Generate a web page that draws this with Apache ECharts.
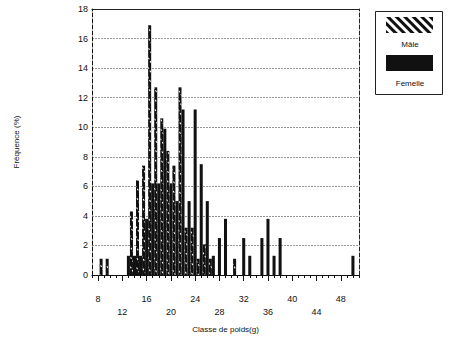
<!DOCTYPE html>
<html><head><meta charset="utf-8">
<script src="https://cdn.jsdelivr.net/npm/echarts@6/dist/echarts.min.js"></script>
<style>html,body{margin:0;padding:0;background:#fff}#c{width:450px;height:338px}</style>
</head><body><div id="c"></div>
<script>
// Weight classes (g)
const classes = [8,9,10,11,12,13,14,15,16,17,18,19,20,21,22,23,24,25,26,27,28,29,30,31,32,33,34,35,36,37,38,39,40,41,42,43,44,45,46,47,48,49,50];
// Frequency (%) — males (hatched)
const maleValues = [1.1,1.1,0,0,0,4.3,6.4,7.4,16.9,12.7,10.6,8.4,7.4,12.7,3.2,3.2,1.1,2.1,1.1,0,0,0,1.1,
  0,0,0,0,0,0,0,0,0,0,0,0,0,0,0,0,0,0,0,0];
// Frequency (%) — females (black)
const femaleValues = [0,0,0,0,0,1.3,1.3,1.3,3.8,6.2,6.2,9.9,6.2,5.0,11.2,5.0,11.2,7.5,5.0,1.3,2.5,3.8,
  0,0,2.5,1.3,0,2.5,3.8,1.3,2.5,0,0,0,0,0,0,0,0,0,0,0,1.3];
const xTickLabels = [8,12,16,20,24,28,32,36,40,44,48];
const yTickLabels = [0,2,4,6,8,10,12,14,16,18];
const seriesNames = ['Mâle','Femelle'];

const FONT = "'Liberation Sans',sans-serif";
const SHIFT = 0.25; // bar group sits just right of its class tick
const toData = vals => classes.map((c, i) => [c + SHIFT, vals[i]]).filter(d => d[1] > 0);

const barDecal = {symbol:'rect', symbolSize:1, color:'#ffffff', dashArrayX:[[2,2]], dashArrayY:[1,4], rotation:Math.PI/3};
const legendDecal = {symbol:'rect', symbolSize:1, color:'#ffffff', dashArrayX:[[1,0]], dashArrayY:[2.5,2.5], rotation:Math.PI/4};

const chart = echarts.init(document.getElementById('c'), null, {renderer:'svg'});
chart.setOption({
  animation:false,
  backgroundColor:'#fff',
  grid:{left:92, right:91, top:9, bottom:62},
  legend:{
    orient:'vertical', left:386, top:17, padding:0, itemWidth:47, itemHeight:16, itemGap:22,
    icon:'rect', selectedMode:false, formatter:() => '',
    data:[{name:seriesNames[0], itemStyle:{decal:legendDecal}}, {name:seriesNames[1]}]
  },
  graphic:[
    {type:'rect', shape:{x:375.5, y:11.5, width:67, height:83}, style:{fill:'none', stroke:'#222', lineWidth:1}},
    {type:'text', x:410, y:44, style:{text:seriesNames[0], fill:'#111', font:"8px "+FONT, align:'center', verticalAlign:'middle'}},
    {type:'text', x:410, y:83, style:{text:seriesNames[1], fill:'#111', font:"8px "+FONT, align:'center', verticalAlign:'middle'}}
  ],
  xAxis:[
    {type:'value', min:7, max:51, interval:1, position:'bottom',
     name:'Classe de poids(g)', nameLocation:'middle', nameGap:50,
     nameTextStyle:{fontSize:8, fontFamily:FONT, color:'#111'},
     axisLine:{show:true, lineStyle:{color:'#111', width:1}},
     axisTick:{show:true, length:3, lineStyle:{color:'#111'}},
     axisLabel:{show:true, customValues:xTickLabels, margin:17, fontSize:9, lineHeight:13, fontFamily:FONT, color:'#111',
       formatter:v => (v % 8 === 0 ? String(v) : '\n' + v)},
     splitLine:{show:false}},
    {type:'value', min:7, max:51, position:'bottom',
     axisLine:{show:false}, axisLabel:{show:false}, splitLine:{show:false},
     axisTick:{show:true, customValues:xTickLabels, length:6, lineStyle:{color:'#111'}}},
    {type:'value', min:7, max:51, position:'top',
     axisLine:{show:true, lineStyle:{color:'#222', width:1}}, axisLabel:{show:false}, axisTick:{show:false}, splitLine:{show:false}}
  ],
  yAxis:[
    {type:'value', min:yTickLabels[0], max:yTickLabels[yTickLabels.length-1], interval:2, position:'left',
     name:'Fréquence (%)', nameLocation:'middle', nameGap:72, nameRotate:90,
     nameTextStyle:{fontSize:8, fontFamily:FONT, color:'#111'},
     axisLine:{show:true, lineStyle:{color:'#111', width:1, type:[4,2]}},
     axisTick:{show:false},
     axisLabel:{margin:4, fontSize:9, fontFamily:FONT, color:'#111'},
     splitLine:{show:true, lineStyle:{color:'#999', width:1, type:[2,1]}}},
    {type:'value', min:0, max:18, position:'right',
     axisLine:{show:true, lineStyle:{color:'#222', width:1, type:[4,2]}},
     axisTick:{show:false}, axisLabel:{show:false}, splitLine:{show:false}}
  ],
  series:[
    {name:seriesNames[1], type:'bar', xAxisIndex:0, yAxisIndex:0, data:toData(femaleValues),
     barGap:'0%', barCategoryGap:'0%', itemStyle:{color:'#111'}},
    {name:seriesNames[0], type:'bar', xAxisIndex:0, yAxisIndex:0, data:toData(maleValues),
     barGap:'0%', barCategoryGap:'0%', itemStyle:{color:'#111', decal:barDecal}}
  ]
});
</script></body></html>
